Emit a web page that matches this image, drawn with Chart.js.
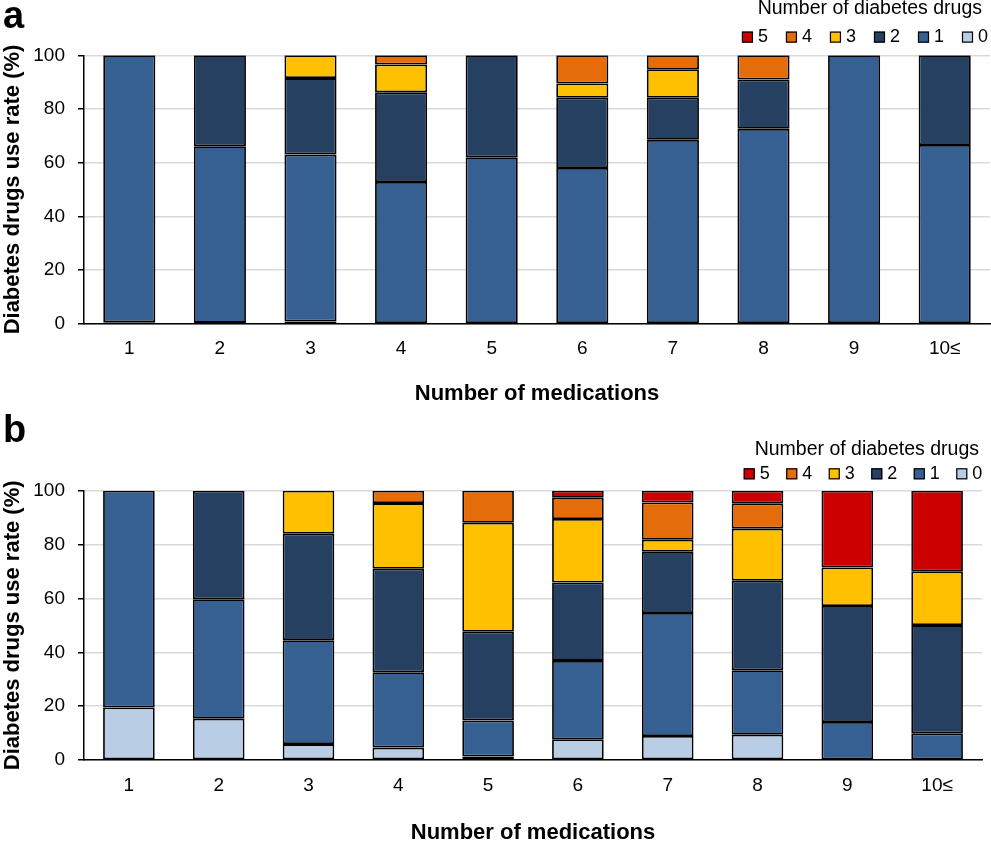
<!DOCTYPE html>
<html>
<head>
<meta charset="utf-8">
<script src="https://cdn.jsdelivr.net/npm/chart.js@4.4.1/dist/chart.umd.min.js"></script>
<style>
  html, body { margin: 0; padding: 0; background: #fff; }
  body { width: 991px; height: 843px; position: relative; overflow: hidden; font-family: 'Liberation Sans', Arial, sans-serif; }
  .panel { position: absolute; left: 0; width: 991px; }
  .tag { position: absolute; left: 3px; font-weight: bold; font-size: 38px; line-height: 38px; color: #000; }
</style>
</head>
<body>
<div class="panel" style="top:0;height:418px"><canvas id="chart-a"></canvas></div>
<div class="panel" style="top:418px;height:432px"><canvas id="chart-b"></canvas></div>
<div class="tag" style="top:-4px">a</div>
<div class="tag" style="top:410px">b</div>
<script>
// x categories (number of medications) and stacked series (number of diabetes drugs)
const categories = ['1', '2', '3', '4', '5', '6', '7', '8', '9', '10≤'];
const drugCounts = ['0', '1', '2', '3', '4', '5'];
const yTicks = [0, 20, 40, 60, 80, 100];

// panel a - values in %
const a0 = [0.5, 0.3, 0.8, 0, 0, 0, 0, 0, 0, 0];
const a1 = [99.5, 65.8, 62.2, 52.8, 62.0, 58.0, 68.5, 72.6, 100, 66.6];
const a2 = [0, 33.9, 28.5, 33.4, 38.0, 26.2, 15.7, 18.4, 0, 33.4];
const a3 = [0, 0, 8.5, 10.4, 0, 5.3, 10.6, 0, 0, 0];
const a4 = [0, 0, 0, 3.4, 0, 10.5, 5.2, 9.0, 0, 0];
const a5 = [0, 0, 0, 0, 0, 0, 0, 0, 0, 0];

// panel b - values in %
const b0 = [19.5, 15.3, 5.9, 4.6, 1.3, 7.7, 8.9, 9.4, 0, 0];
const b1 = [80.5, 44.4, 38.6, 28.0, 13.4, 29.1, 45.7, 23.9, 14.1, 9.9];
const b2 = [0, 40.3, 39.5, 38.4, 32.9, 29.1, 22.7, 33.3, 43.1, 40.2];
const b3 = [0, 0, 16.0, 24.4, 40.5, 23.6, 4.5, 19.3, 14.3, 20.0];
const b4 = [0, 0, 0, 4.6, 11.9, 7.9, 13.8, 9.4, 0, 0];
const b5 = [0, 0, 0, 0, 0, 2.6, 4.4, 4.7, 28.5, 29.9];

const colors = ['#B9CDE5', '#376092', '#254061', '#FFC000', '#E46C0A', '#CC0000'];
const FONT = "'Liberation Sans', Arial, sans-serif";

Chart.defaults.font.family = FONT;
Chart.defaults.color = '#000';

// legend drawn by hand so it can sit exactly where it is in the figure
const drugLegend = {
    id: 'drugLegend',
    afterDraw(chart, args, o) {
        const ctx = chart.ctx;
        const box = 11, gapText = 5;
        ctx.save();
        ctx.font = '19.5px ' + FONT;
        ctx.fillStyle = '#000';
        ctx.textBaseline = 'middle';
        ctx.textAlign = 'right';
        ctx.fillText('Number of diabetes drugs', o.titleRight, o.titleY);

        ctx.font = '18px ' + FONT;
        const items = chart.data.datasets.map(d => ({ text: d.label, color: d.backgroundColor })).reverse();
        const widths = items.map(it => box + gapText + ctx.measureText(it.text).width);
        const total = widths.reduce((s, w) => s + w, 0) + o.gap * (items.length - 1);
        let x = o.right - total;
        ctx.textAlign = 'left';
        items.forEach((it, i) => {
            ctx.fillStyle = it.color;
            ctx.fillRect(x, o.itemY - box / 2, box, box);
            ctx.strokeStyle = '#000';
            ctx.lineWidth = 1.2;
            ctx.strokeRect(x + 0.5, o.itemY - box / 2 + 0.5, box - 1, box - 1);
            ctx.fillStyle = '#000';
            ctx.fillText(it.text, x + box + gapText, o.itemY);
            x += widths[i] + o.gap;
        });
        ctx.restore();
    }
};

function buildChart(id, series, opt) {
    return new Chart(document.getElementById(id), {
        type: 'bar',
        data: {
            labels: categories,
            datasets: series.map((vals, i) => ({
                label: drugCounts[i],
                // empty segments are left out so they draw no border line
                data: vals.map(v => (v === 0 ? null : v)),
                backgroundColor: colors[i],
                borderColor: '#000',
                borderWidth: 1.8,
                borderSkipped: false,
                inflateAmount: 0,
                barPercentage: 0.575,
                categoryPercentage: 1
            }))
        },
        options: {
            responsive: true,
            maintainAspectRatio: false,
            animation: false,
            layout: { padding: { top: opt.top, right: opt.right, bottom: opt.bottom, left: 0 } },
            plugins: {
                legend: { display: false },
                tooltip: { enabled: false },
                drugLegend: opt.legend
            },
            scales: {
                x: {
                    stacked: true,
                    grid: { display: false, drawTicks: false },
                    border: { display: true, color: '#000', width: 1.5 },
                    ticks: { color: '#000', font: { size: 19 }, padding: 14 },
                    title: {
                        display: true, text: 'Number of medications', color: '#000',
                        font: { size: 22, weight: 'bold' }, padding: { top: opt.xTitlePad, bottom: 0 }
                    }
                },
                y: {
                    stacked: true,
                    min: 0,
                    max: 100,
                    afterBuildTicks: s => { s.ticks = yTicks.map(v => ({ value: v })); },
                    afterFit: s => { s.width = 84; },
                    grid: { color: '#d9d9d9', lineWidth: 1.5, tickColor: '#000', tickLength: 6, tickWidth: 1.5 },
                    border: { color: '#000', width: 1.5 },
                    ticks: { color: '#000', font: { size: 19 }, padding: 13 },
                    title: {
                        display: true, text: 'Diabetes drugs use rate (%)', color: '#000',
                        font: { size: 22, weight: 'bold' }, padding: { top: 0, bottom: 0 }
                    }
                }
            }
        },
        plugins: [drugLegend]
    });
}

buildChart('chart-a', [a0, a1, a2, a3, a4, a5], {
    top: 55.3, right: 1, bottom: 11, xTitlePad: 6.1,
    legend: { titleRight: 982, titleY: 8.8, itemY: 37.1, right: 988, gap: 18 }
});

buildChart('chart-b', [b0, b1, b2, b3, b4, b5], {
    top: 72.7, right: 9, bottom: 3.8, xTitlePad: 9.0,
    legend: { titleRight: 979, titleY: 31.8, itemY: 55.8, right: 982.3, gap: 16.5 }
});
</script>
</body>
</html>
